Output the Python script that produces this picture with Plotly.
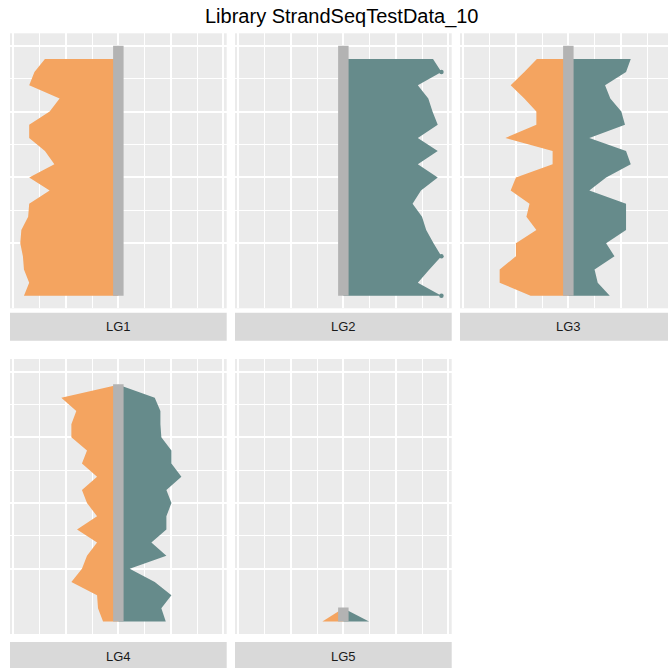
import plotly.graph_objects as go

# ---------------- data ----------------
panels = ["LG1", "LG2", "LG3", "LG4", "LG5"]
title_text = "Library StrandSeqTestData_10"

# chromosome length (in bins) for each linkage group
chrom_len = [19.0, 19.0, 19.0, 18.03, 1.06]

# read counts per bin, listed from bin 0 (bottom) upwards
watson_counts = {   # orange, drawn to the left
    "LG1": [90, 85, 90, 91, 93.5, 92.5, 86, 85, 65.5, 85, 61, 70, 85, 85, 65.5, 56, 85, 80, 70],
    "LG2": [],
    "LG3": [36, 65.5, 65.5, 50, 50, 30.5, 40, 37, 55, 50, 15, 15, 60, 30.5, 30.5, 42, 55, 42, 30],
    "LG4": [14.6, 19.4, 20.3, 44.8, 34.7, 29.9, 20.3, 39.4, 20.3, 29.9, 34.7, 20.3, 34.7, 29.9,
            44.8, 44.8, 40.1, 54.4, 0],
    "LG5": [20, 0],
}
crick_counts = {    # teal, drawn to the right
    "LG1": [],
    "LG2": [93.5, 71, 82, 93.5, 86, 79, 75, 66, 74, 90, 71, 90, 71, 90, 85, 81, 71, 93.5, 85.5],
    "LG3": [39.5, 28, 25, 44, 36, 55, 55, 55, 20, 36, 59.5, 55, 20, 54, 50.5, 40, 35, 55, 59.5],
    "LG4": [45.2, 41, 50.6, 34.7, 10.8, 45.8, 31.5, 45.8, 45.8, 50.6, 45.8, 60.1, 50.6, 50.6,
            41, 40.1, 40.1, 34.7, 0],
    "LG5": [24.5, 0],
}
# bins of the crick profile that carry a point marker
crick_marked_bins = {"LG2": [0, 3, 17]}

# ---------------- style ----------------
ORANGE = "#F4A460"
TEAL = "#668B8B"
BAR = "#B3B3B3"
PANEL_BG = "#EBEBEB"
STRIP_BG = "#D9D9D9"
FONT = "Liberation Sans, Arial, sans-serif"
W = H = 668
bin_size = 1.0
bar_half = 5.0

X_HALF = 103.3
Y_RANGE = [-0.95, 19.95]

col_px = [(10, 226.7), (235, 451.7), (460, 676.7)]
row_px = [(33.3, 308.3), (359, 634)]
strip_px = [(312.7, 340.7), (642, 670)]

fig = go.Figure()
layout = dict(
    width=W, height=H, margin=dict(l=0, r=0, t=0, b=0),
    paper_bgcolor="white", plot_bgcolor=PANEL_BG, showlegend=False,
    shapes=[], annotations=[],
)

for i, name in enumerate(panels):
    r, c = divmod(i, 3)
    ax = "" if i == 0 else str(i + 1)
    x0p, x1p = col_px[c]
    y0p, y1p = row_px[r]
    full_w = x1p - x0p
    vis_x1 = min(x1p, W)
    xr = [-X_HALF, -X_HALF + 2 * X_HALF * (vis_x1 - x0p) / full_w]

    for counts, sign, color in ((watson_counts[name], -1, ORANGE), (crick_counts[name], 1, TEAL)):
        if not counts:
            continue
        pos = [k * bin_size for k in range(len(counts))]
        xs = [0] + [sign * v for v in counts] + [0]
        ys = [pos[0]] + pos + [pos[-1]]
        fig.add_trace(go.Scatter(x=xs, y=ys, fill="toself", fillcolor=color, mode="none",
                                 line=dict(width=0), xaxis="x" + ax, yaxis="y" + ax,
                                 hoverinfo="skip"))
        if sign == 1 and name in crick_marked_bins:
            mb = crick_marked_bins[name]
            fig.add_trace(go.Scatter(x=[counts[b] for b in mb], y=[pos[b] for b in mb],
                                     mode="markers", marker=dict(color=color, size=4.5),
                                     xaxis="x" + ax, yaxis="y" + ax, hoverinfo="skip"))
    # chromosome bar
    L = chrom_len[i]
    fig.add_trace(go.Scatter(x=[-bar_half, bar_half, bar_half, -bar_half],
                             y=[0, 0, L, L], fill="toself", fillcolor=BAR, mode="none",
                             xaxis="x" + ax, yaxis="y" + ax, hoverinfo="skip"))

    layout["xaxis" + ax] = dict(
        domain=[x0p / W, vis_x1 / W], range=xr, anchor="y" + ax,
        showticklabels=False, ticks="", zeroline=False, showline=False,
        tickvals=[-100, -50, 0, 50, 100], showgrid=True, gridcolor="white", gridwidth=2,
        minor=dict(tickvals=[-75, -25, 25, 75], showgrid=True, gridcolor="white", gridwidth=1),
        fixedrange=True,
    )
    layout["yaxis" + ax] = dict(
        domain=[1 - y1p / H, 1 - y0p / H], range=Y_RANGE, anchor="x" + ax,
        showticklabels=False, ticks="", zeroline=False, showline=False,
        tickvals=[4, 9, 14, 19], showgrid=True, gridcolor="white", gridwidth=2,
        minor=dict(tickvals=[6.5, 11.5, 16.5], showgrid=True, gridcolor="white", gridwidth=1),
        fixedrange=True,
    )
    # strip
    s0, s1 = strip_px[r]
    layout["shapes"].append(dict(type="rect", xref="paper", yref="paper",
                                 x0=x0p / W, x1=min(x1p, W + 20) / W,
                                 y0=1 - s1 / H, y1=1 - s0 / H,
                                 fillcolor=STRIP_BG, line=dict(width=0), layer="below"))
    layout["annotations"].append(dict(text=name, xref="paper", yref="paper",
                                      x=(x0p + x1p) / 2 / W, y=1 - (s0 + 14) / H,
                                      xanchor="center", yanchor="middle", showarrow=False,
                                      font=dict(family=FONT, size=13, color="#1A1A1A")))

layout["annotations"].append(dict(text=title_text, xref="paper", yref="paper",
                                  x=342 / W, y=1 - 16.5 / H, xanchor="center", yanchor="middle",
                                  showarrow=False, font=dict(family=FONT, size=20, color="black")))

fig.update_layout(**layout)
fig.write_html("out.html", config={"displayModeBar": False},
               post_script="document.body.style.margin='0px';document.body.style.overflow='hidden';")
